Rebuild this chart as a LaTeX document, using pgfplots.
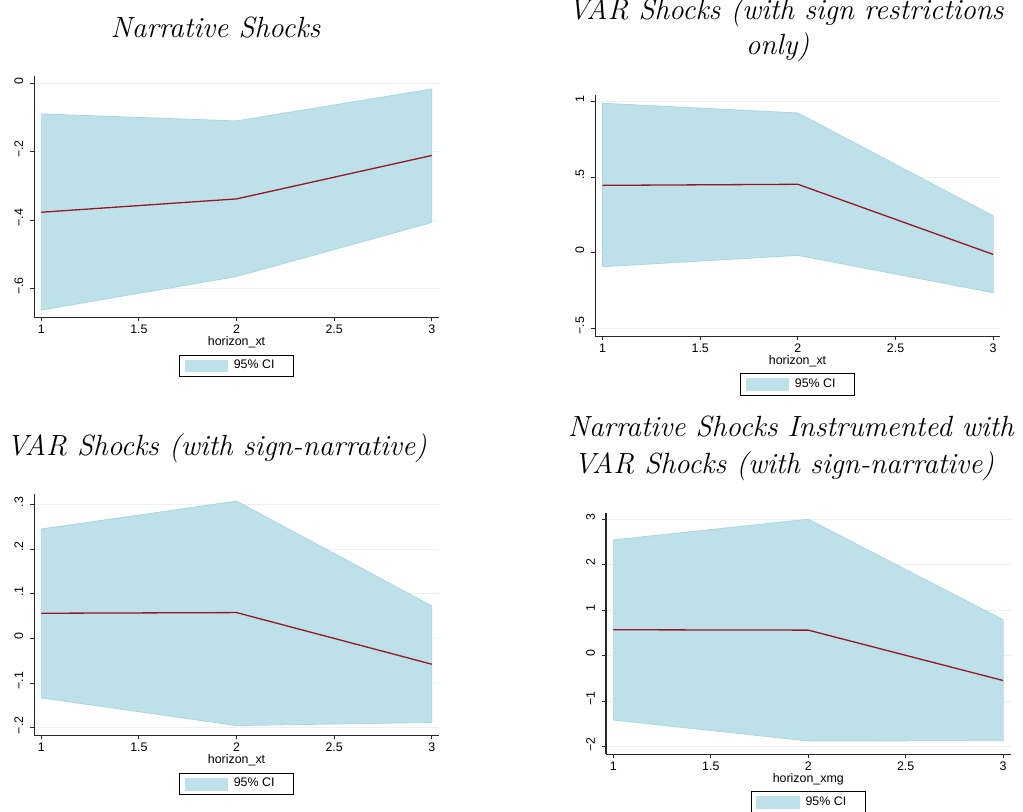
\documentclass[border=0pt]{standalone}
\usepackage{fontspec}
\newfontfamily\arial{Liberation Sans}
\usepackage{pgfplots}
\pgfplotsset{compat=1.18}
\definecolor{cifill}{RGB}{190,224,233}
\definecolor{ciedge}{RGB}{172,213,226}
\definecolor{meanline}{RGB}{145,25,40}
\definecolor{gridc}{RGB}{232,241,243}
\newcommand{\tickfont}{\arial\fontsize{6.2}{7}\selectfont}
\newcommand{\titlefont}{\itshape\fontsize{14.6}{18}\selectfont}
\pgfplotsset{
 panel/.style={
  scale only axis, width=202.25pt, height=120.75pt,
  axis lines*=left, axis line style={black!85, line width=0.6pt},
  tick align=outside, major tick length=2pt, tick style={black!85, line width=0.5pt},
  xtick={1,1.5,2,2.5,3}, xticklabels={1,1.5,2,2.5,3},
  ymajorgrids, grid style={gridc, line width=0.5pt},
  ticklabel style={font=\tickfont},
  yticklabel style={rotate=90, anchor=south, xshift=1.3pt},
  xticklabel style={anchor=north, yshift=1.8pt},
  xlabel style={font=\tickfont, yshift=5.5pt},
  legend style={at={(0.5,-0.1545)}, anchor=north, draw=black, line width=0.5pt,
    inner xsep=2.5pt, inner ysep=2.25pt, font=\tickfont, nodes={inner sep=0pt}},
  legend image code/.code={\fill[cifill] (0pt,-2.925pt) rectangle (21.35pt,2.925pt);},
 }
}
\begin{document}
\begin{tikzpicture}
\useasboundingbox (0pt,0pt) rectangle (511.5pt,406pt);
\clip (0pt,0pt) rectangle (511.5pt,406pt);
% Panel 1
\begin{axis}[panel, at={(17.15pt,368pt)}, anchor=north west,
  xmin=0.964, xmax=3.036, ymin=-0.6847, ymax=0.0214,
  ytick={-0.6,-0.4,-0.2,0}, yticklabels={−.6,−.4,−.2,0},
  xlabel={horizon\_xt}]
\addplot[fill=cifill, draw=ciedge, line width=0.4pt] coordinates {(1,-0.0895)(2,-0.110)(3,-0.0165)(3,-0.407)(2,-0.565)(1,-0.663)} -- cycle;
\addlegendentry{\makebox[30.15pt][l]{\hspace{2.85pt}95\% CI}}
\addplot[meanline, line width=0.65pt, forget plot] coordinates {(1,-0.377)(2,-0.338)(3,-0.211)};
\end{axis}
% Panel 2
\begin{axis}[panel, at={(297.65pt,358.67pt)}, anchor=north west,
  xmin=0.9625, xmax=3.034, ymin=-0.5507, ymax=1.044,
  ytick={-0.5,0,0.5,1}, yticklabels={−.5,0,.5,1},
  xlabel={horizon\_xt}]
\addplot[fill=cifill, draw=ciedge, line width=0.4pt] coordinates {(1,0.987)(2,0.923)(3,0.244)(3,-0.264)(2,-0.0176)(1,-0.0925)} -- cycle;
\addlegendentry{\makebox[30.15pt][l]{\hspace{2.85pt}95\% CI}}
\addplot[meanline, line width=0.65pt, forget plot] coordinates {(1,0.445)(2,0.452)(3,-0.011)};
\end{axis}
% Panel 3
\begin{axis}[panel, at={(17.15pt,159pt)}, anchor=north west,
  xmin=0.964, xmax=3.036, ymin=-0.2172, ymax=0.3239,
  ytick={-0.2,-0.1,0,0.1,0.2,0.3}, yticklabels={−.2,−.1,0,.1,.2,.3},
  xlabel={horizon\_xt}]
\addplot[fill=cifill, draw=ciedge, line width=0.4pt] coordinates {(1,0.2455)(2,0.308)(3,0.0731)(3,-0.188)(2,-0.195)(1,-0.133)} -- cycle;
\addlegendentry{\makebox[30.15pt][l]{\hspace{2.85pt}95\% CI}}
\addplot[meanline, line width=0.65pt, forget plot] coordinates {(1,0.0567)(2,0.0582)(3,-0.0575)};
\end{axis}
% Panel 4
\begin{axis}[panel, at={(303pt,149.67pt)}, anchor=north west,
  xmin=0.9624, xmax=3.0376, ymin=-2.161, ymax=3.147,
  ytick={-2,-1,0,1,2,3}, yticklabels={−2,−1,0,1,2,3},
  xlabel={horizon\_xmg}]
\addplot[fill=cifill, draw=ciedge, line width=0.4pt] coordinates {(1,2.548)(2,3.003)(3,0.793)(3,-1.865)(2,-1.872)(1,-1.41)} -- cycle;
\addlegendentry{\makebox[30.15pt][l]{\hspace{2.85pt}95\% CI}}
\addplot[meanline, line width=0.65pt, forget plot] coordinates {(1,0.573)(2,0.565)(3,-0.543)};
\end{axis}
% Titles
\node[font=\titlefont, anchor=base] at (107.75pt,387.35pt) {Narrative Shocks};
\node[font=\titlefont, anchor=base] at (392.9pt,396.25pt) {VAR Shocks (with sign restrictions};
\node[font=\titlefont, anchor=base] at (388.75pt,378.5pt) {only)};
\node[font=\titlefont, anchor=base] at (108.35pt,178pt) {VAR Shocks (with sign-narrative)};
\node[font=\titlefont, anchor=base] at (395.4pt,187.65pt) {Narrative Shocks Instrumented with};
\node[font=\titlefont, anchor=base] at (392pt,169.35pt) {VAR Shocks (with sign-narrative)};
\end{tikzpicture}
\end{document}
